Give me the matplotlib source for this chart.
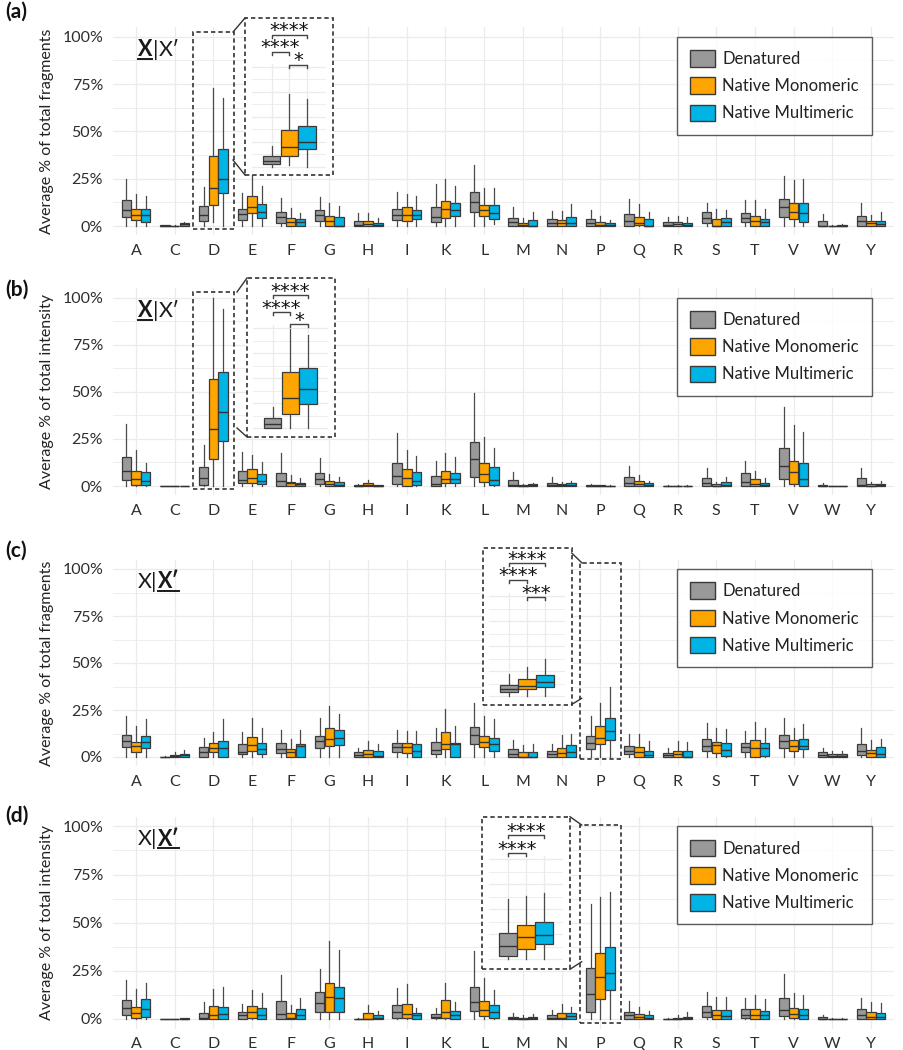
import matplotlib
matplotlib.use('Agg')
import matplotlib.pyplot as plt
from matplotlib.patches import Patch, Rectangle
from matplotlib.lines import Line2D

FONT = ['Lato', 'DejaVu Sans']
plt.rcParams['font.family'] = FONT

W, H = 904, 1050
fig = plt.figure(figsize=(W / 100, H / 100), dpi=100)
fig.patch.set_facecolor('white')


def fx(px):
    return px / W


def fy(py):
    return 1 - py / H


residues = ['A', 'C', 'D', 'E', 'F', 'G', 'H', 'I', 'K', 'L', 'M', 'N', 'P', 'Q', 'R', 'S', 'T', 'V', 'W', 'Y']
groups = ['Denatured', 'Native Monomeric', 'Native Multimeric']
colors = ['#999999', '#FFA500', '#00B4E6']

# (whisker low, Q1, median, Q3, whisker high) in %, one tuple per residue
a_denatured = [(0, 5, 8.5, 13.5, 24.8), (0, 0, 0, 0.3, 0.5), (0, 2.7, 5.9, 10.6, 20.6), (0, 3.2, 6.2, 9, 17.5),
               (0, 1.8, 4.6, 7.6, 14.7), (0, 2.7, 5.7, 8.5, 15.2), (0, 0, 0.5, 2.7, 6.7), (0, 3.2, 5.9, 9, 17.7),
               (0, 2.3, 5, 9.9, 22.2), (0, 7.3, 12.6, 17.9, 32.4), (0, 0, 2.3, 4.1, 10.3), (0, 0, 1.4, 3.5, 8),
               (0, 0, 1.8, 3.7, 8.5), (0, 0, 2.7, 6.2, 14.2), (0, 0, 0.7, 2.3, 5), (0, 1.8, 4.1, 7.3, 12.4),
               (0, 2, 4.1, 6.7, 13.5), (0, 5, 9.9, 14.4, 26.2), (0, 0, 0, 2.8, 6.2), (0, 0, 2.7, 5.3, 12.4)]
a_monomeric = [(0, 3.2, 5.9, 8.9, 17), (0, 0, 0, 0.2, 0.4), (2, 11, 20, 37, 73), (0, 6.7, 9.9, 15.6, 27),
               (0, 0, 2.3, 4.1, 9.4), (0, 0, 2.7, 5.5, 12), (0, 0, 1, 2.7, 6.7), (0, 2.7, 5.9, 9.8, 16.8),
               (0, 4.4, 8.9, 13, 25), (0, 5.3, 8.2, 11.2, 20), (0, 0, 0.7, 1.4, 4), (0, 0, 1.4, 3.2, 8),
               (0, 0, 0.7, 2.3, 5.3), (0, 0.4, 1.8, 5, 11.5), (0, 0, 1, 2.3, 5.3), (0, 0, 0.2, 3.7, 8.9),
               (0, 0, 2.7, 5.5, 13.8), (0, 3.5, 7.3, 12, 24.1), (0, 0, 0, 0.1, 0.3), (0, 0, 1.4, 2.8, 5.9)]
a_multimeric = [(0, 2.3, 5.7, 9, 16), (0, 0.2, 0.8, 1.5, 2), (0, 17.5, 25, 40.7, 67.6), (0, 4.4, 7.4, 11.7, 21.3),
                (0, 0, 2, 3.5, 7.1), (0, 0, 0.2, 4.6, 10.6), (0, 0, 0.7, 1.8, 4), (0, 3.5, 5.9, 8.5, 16.1),
                (0, 5.5, 8.5, 12, 21.3), (1, 3.5, 7.1, 11.2, 20), (0, 0, 0.2, 3.2, 7.3), (0, 0, 1.8, 5, 11.7),
                (0, 0, 0.5, 1.4, 3.2), (0, 0, 0.2, 3.5, 7.6), (0, 0, 0.7, 1.8, 4.6), (0, 0, 2.3, 4.4, 8.2),
                (0, 0, 2.3, 3.5, 8.9), (0, 2.3, 6.7, 12, 25), (0, 0, 0.1, 0.4, 1), (0, 0, 1, 2.8, 7.3)]

b_denatured = [(0, 3.2, 8.2, 15.6, 32.8), (0, 0, 0, 0.1, 0.2), (0, 0.5, 4.4, 9.9, 21.8), (0, 1.4, 3.2, 8.2, 18.3),
               (0, 0, 2.7, 7.1, 17.4), (0, 1.1, 3.7, 7.1, 15), (0, 0, 0.2, 0.5, 0.9), (0, 1.1, 5.5, 12.4, 28.4),
               (0, 0, 0.9, 5.5, 13.5), (0, 5, 14.2, 23.2, 49.2), (0, 0, 0.4, 3.2, 7.6), (0, 0, 0.7, 1.8, 4.6),
               (0, 0, 0.1, 0.5, 1.2), (0, 0, 1.4, 5, 10.6), (0, 0, 0, 0.2, 0.4), (0, 0, 1.4, 4.1, 9.8),
               (0, 0, 2.3, 6.7, 13.5), (0, 3.5, 10.6, 20.4, 42.2), (0, 0, 0.1, 0.5, 1.4), (0, 0, 0.4, 4.4, 9.8)]
b_monomeric = [(0, 0.5, 3.5, 8.2, 19.1), (0, 0, 0, 0.1, 0.2), (0, 14.2, 30.1, 56.7, 99.7), (0, 1.8, 4.1, 9, 16.5),
               (0, 0, 1.4, 2.3, 5.9), (0, 0, 1.1, 2.7, 6.4), (0, 0, 0.4, 1.4, 3.2), (0, 0.2, 4.1, 8.9, 19.1),
               (0, 1.4, 3.7, 8.2, 17.4), (0, 2, 6.4, 12, 26.2), (0, 0, 0.1, 0.5, 0.9), (0, 0, 0.4, 0.9, 2.3),
               (0, 0, 0.1, 0.3, 0.6), (0, 0, 1.1, 2.8, 5.9), (0, 0, 0, 0.2, 0.4), (0, 0, 0.2, 1.1, 2.3),
               (0, 0, 1.1, 3.5, 8), (0, 0.9, 7.3, 13.5, 32.4), (0, 0, 0, 0.1, 0.2), (0, 0, 0.2, 1.1, 2.3)]
b_multimeric = [(0, 0.5, 2.8, 7.4, 12), (0, 0, 0, 0.1, 0.2), (0, 23.9, 39.3, 60.4, 93.8), (0, 0.9, 2.8, 6.4, 12.9),
                (0, 0, 0.9, 1.8, 4.1), (0, 0, 0.5, 2, 4.6), (0, 0, 0.1, 0.4, 0.6), (0, 0.5, 2.7, 7.6, 16),
                (0, 1.4, 3.7, 6.7, 15.2), (0, 0.5, 3.2, 10.3, 20), (0, 0, 0.4, 0.9, 1.4), (0, 0, 0.5, 1.4, 2.7),
                (0, 0, 0.1, 0.2, 0.4), (0, 0, 0.5, 1.4, 2.8), (0, 0, 0, 0.2, 0.4), (0, 0, 0.4, 2, 4.6),
                (0, 0, 0.7, 1.8, 4.1), (0, 0.2, 3.9, 12.4, 28.9), (0, 0, 0, 0.1, 0.2), (0, 0, 0.3, 1.1, 2.7)]

c_denatured = [(0, 5.1, 8.5, 11.7, 21.8), (0, 0, 0, 0.2, 0.3), (0, 0, 2.8, 5.5, 10.3), (0, 1.6, 2.8, 6.9, 13.5),
               (0, 2.3, 4.3, 7.3, 14.4), (0, 5, 8.5, 11, 20.6), (0, 0, 1.1, 2.5, 4.8), (0, 2.5, 5.3, 7.3, 14.4),
               (0, 1.8, 3.7, 8.2, 15.6), (0, 6.7, 11.7, 16.1, 28.6), (0, 0, 1.4, 4.1, 9), (0, 0, 1.8, 3.4, 6.7),
               (0, 4.1, 7.3, 11, 21.8), (0, 1.4, 3.2, 5.9, 12.2), (0, 0, 1.1, 2.3, 5), (0, 3.2, 5.9, 9.4, 17.9),
               (0, 2.5, 5.5, 7.3, 13.8), (0, 4.6, 8.5, 11.7, 20.6), (0, 0, 1.1, 2.8, 4.6), (0, 1.1, 3.4, 6.7, 15.2)]
c_monomeric = [(0, 2.8, 5.9, 8.2, 16.7), (0, 0, 0.5, 1.1, 2.5), (0, 2.5, 5, 7.3, 13.5), (0, 3.2, 6.4, 10.5, 20.9),
               (0, 0, 2.5, 4.3, 9.6), (0, 6, 9.4, 15.2, 27.3), (0, 0, 1.6, 3.9, 8.3), (0, 2.3, 5.1, 7.3, 13.8),
               (0, 4.3, 6.7, 13.1, 25.4), (0, 5.1, 8.2, 11.2, 22), (0, 0, 0.2, 2.5, 6.4), (0, 0, 2.3, 5, 11.7),
               (0, 6.7, 9.9, 16.7, 28.9), (0, 0, 2.5, 5.1, 12.1), (0, 0, 1.4, 3.4, 8.5), (0, 2, 6.4, 7.8, 15.6),
               (0, 0, 4.6, 9, 18.8), (0, 3.2, 6, 8.9, 15.6), (0, 0, 0.7, 1.8, 3.2), (0, 0, 2.3, 3.7, 9)]
c_multimeric = [(0, 5, 8.2, 11.3, 20), (0, 0, 1.1, 1.6, 3.7), (0, 0, 5, 8.7, 20), (0, 1.6, 4.3, 7.6, 15.2),
                (0, 0, 6, 6.7, 14.2), (0, 6.4, 9.9, 14.4, 22.9), (0, 0, 0.5, 3.4, 7.1), (0, 0, 3.4, 6.7, 14),
                (0, 0, 6.7, 7.3, 16.7), (0, 3.2, 6.9, 10.3, 20), (0, 0, 0.2, 2.5, 6.9), (0, 0, 2.8, 6.4, 12.1),
                (0, 9, 13.8, 20.6, 37.4), (0, 0, 1.1, 3.4, 8.7), (0, 0, 0.1, 3.4, 8.2), (0, 0.5, 3.7, 7.3, 14.9),
                (0, 0.5, 5, 7.6, 15.2), (0, 4.1, 6, 9.4, 17.4), (0, 0, 0.3, 1.8, 3.4), (0, 0, 1.6, 5.1, 9.4)]

d_denatured = [(0, 2.1, 5.6, 9.9, 20.3), (0, 0, 0, 0.1, 0.2), (0, 0, 0.5, 3.3, 8.7), (0, 0, 1.9, 3.5, 7.8),
               (0, 0, 2.6, 9.5, 22.9), (0, 3.5, 8.2, 13.9, 26), (0, 0, 0, 0.1, 0.3), (0, 0.7, 3.8, 7.3, 16.3),
               (0, 0.5, 1.2, 2.4, 5.6), (0, 4.2, 9, 16.5, 35.5), (0, 0, 0.3, 1.2, 3.3), (0, 0, 0.5, 2.1, 4.7),
               (0, 3.4, 12.9, 26.4, 59.8), (0, 0, 1.9, 3.8, 9.5), (0, 0, 0, 0.1, 0.3), (0, 0.9, 3.5, 6.8, 13.9),
               (0, 0.5, 1.9, 5, 10.8), (0, 1.7, 4.7, 10.8, 23.3), (0, 0, 0.2, 0.9, 1.9), (0, 0, 1.9, 5, 10.8)]
d_monomeric = [(0, 0.3, 3.3, 6.4, 15.5), (0, 0, 0, 0.1, 0.2), (0, 0, 1.9, 6.8, 15.5), (0, 0.7, 3.8, 6.9, 14.8),
               (0, 0, 0.5, 3, 7.3), (0, 3.5, 11.3, 18.6, 40.6), (0, 0, 0.1, 3, 7.3), (0, 0.3, 2.6, 7.6, 18),
               (0, 0.7, 3.8, 9.9, 18.6), (0, 1.7, 4.5, 9.5, 21.2), (0, 0, 0.2, 0.7, 2.1), (0, 0, 0.5, 3.3, 7.8),
               (0, 10.3, 22, 34.5, 63.5), (0, 0, 1.2, 2.6, 6.4), (0, 0, 0.1, 0.5, 2.1), (0, 0, 1.9, 4.7, 11.6),
               (0, 0, 1.9, 5, 12.5), (0, 0.3, 2.6, 5.6, 13.4), (0, 0, 0, 0.1, 0.5), (0, 0, 1, 3.5, 8.7)]
d_multimeric = [(0, 1.2, 5, 10.2, 18.6), (0, 0, 0.1, 0.4, 0.6), (0, 0, 2.4, 6.4, 16.5), (0, 0, 2.1, 5.6, 13.4),
                (0, 0, 1.9, 5, 10.8), (0, 3.5, 10.8, 16.8, 35.6), (0, 0, 0.3, 1.9, 4.2), (0, 0, 1.9, 3, 5.6),
                (0, 0, 2.1, 4.2, 8.7), (0, 0.3, 3.5, 7.3, 15), (0, 0, 0.3, 0.9, 2.4), (0, 0, 1.6, 3, 6.1),
                (0, 15.1, 24.1, 37.3, 66), (0, 0, 0.3, 1.9, 4.3), (0, 0, 0.3, 0.9, 3.5), (0, 0, 1.6, 4.7, 11.6),
                (0, 0, 1.9, 4.3, 10.2), (0, 0, 2.1, 5, 12.5), (0, 0, 0, 0.1, 0.5), (0, 0, 0.9, 3.3, 8.2)]

yticks = [0, 25, 50, 75, 100]
ytick_labels = ['0%', '25%', '50%', '75%', '100%']

# significance annotations: (group i, group j, bracket height, label)
a_signif = [(1, 3, 132, '****'), (1, 2, 115, '****'), (2, 3, 102, '*')]
b_signif = [(1, 3, 133, '****'), (1, 2, 116, '****'), (2, 3, 104, '*')]
c_signif = [(1, 3, 133, '****'), (1, 2, 116, '****'), (2, 3, 99, '***')]
d_signif = [(1, 3, 124, '****'), (1, 2, 106, '****')]

panels = [
    dict(tag='(a)', tag_y=12, ylabel='Average % of total fragments', data=[a_denatured, a_monomeric, a_multimeric],
         zero=226, scale=1.893, first_bold=True, hl='D', hl_y=(-1.6, 102.6),
         inset=(245, 18, 333, 175), izero=166.7, ic2=289.3, isp=17.6, signif=a_signif,
         conn=[((233, 32), (245, 18)), ((233, 160), (245, 175))]),
    dict(tag='(b)', tag_y=290, ylabel='Average % of total intensity', data=[b_denatured, b_monomeric, b_multimeric],
         zero=486, scale=1.883, first_bold=True, hl='D', hl_y=(-1.6, 103),
         inset=(247, 278, 335, 437), izero=428.3, ic2=290.3, isp=17.8, signif=b_signif,
         conn=[((237, 292), (247, 278)), ((237, 428), (247, 437))]),
    dict(tag='(c)', tag_y=551, ylabel='Average % of total fragments', data=[c_denatured, c_monomeric, c_multimeric],
         zero=757, scale=1.88, first_bold=False, hl='P', hl_y=(-1.2, 103.4),
         inset=(483.3, 548.3, 571.7, 705), izero=696, ic2=527.3, isp=18, signif=c_signif,
         conn=[((571.7, 553), (581.7, 562.7)), ((571.7, 704.5), (581.7, 698.3))]),
    dict(tag='(d)', tag_y=816, ylabel='Average % of total intensity', data=[d_denatured, d_monomeric, d_multimeric],
         zero=1019, scale=1.926, first_bold=False, hl='P', hl_y=(-2.2, 100.7),
         inset=(481.7, 816.7, 570, 969.3), izero=959, ic2=526, isp=17.8, signif=d_signif,
         conn=[((570, 816.7), (581.7, 825)), ((570, 969.3), (581.7, 961.7))]),
]

AX_L, AX_R = 112.8, 894.2
GRID = '#ebebeb'
EDGE = '#3a3a3a'
TXT = '#2e2e2e'
DASH = (0, (2.6, 1.8))


def stats_of(t):
    lo, q1, med, q3, hi = t
    return dict(whislo=lo, q1=q1, med=med, q3=q3, whishi=hi, fliers=[])


def draw_boxes(ax, stats, positions, width, color):
    b = ax.bxp(stats, positions=positions, widths=width, patch_artist=True, showcaps=False,
               showfliers=False, manage_ticks=False,
               boxprops=dict(facecolor=color, edgecolor=EDGE, linewidth=0.9),
               whiskerprops=dict(color='#4a4a4a', linewidth=0.9),
               medianprops=dict(color='#333333', linewidth=1.0))
    return b


def style_grid(ax):
    for s in ax.spines.values():
        s.set_visible(False)
    ax.set_yticks(yticks)
    ax.set_yticks([12.5, 37.5, 62.5, 87.5], minor=True)
    ax.grid(True, which='major', color=GRID, linewidth=0.9)
    ax.grid(True, which='minor', axis='y', color=GRID, linewidth=0.6)
    ax.set_axisbelow(True)
    ax.tick_params(which='both', length=0)


renderer = fig.canvas.get_renderer()

for p in panels:
    sc = p['scale']
    top = p['zero'] - 105 * sc
    bot = p['zero'] + 5 * sc
    ax = fig.add_axes([fx(AX_L), fy(bot), fx(AX_R) - fx(AX_L), (bot - top) / H])
    ax.set_facecolor('white')
    ax.set_xlim(0.4, 20.6)
    ax.set_ylim(-5, 105)
    style_grid(ax)
    ax.set_xticks(range(1, 21))
    ax.set_xticklabels(residues, fontsize=11.5, color=TXT)
    ax.set_yticklabels(ytick_labels, fontsize=11.5, color=TXT)
    ax.tick_params(axis='y', pad=7)
    ax.tick_params(axis='x', pad=6)

    for g, (series, col) in enumerate(zip(p['data'], colors)):
        pos = [i + 1 + (g - 1) * 0.25 for i in range(len(residues))]
        draw_boxes(ax, [stats_of(t) for t in series], pos, 0.245, col)

    # legend
    handles = [Patch(facecolor=c, edgecolor=EDGE, linewidth=1.0, label=g) for g, c in zip(groups, colors)]
    leg = ax.legend(handles=handles, loc='upper right', bbox_to_anchor=((872 - AX_L) / (AX_R - AX_L), 105 / 110),
                    bbox_transform=ax.transAxes, frameon=True, fancybox=False, fontsize=12,
                    borderpad=0.8, labelspacing=0.62, handlelength=1.45, handleheight=1.15,
                    handletextpad=0.45, borderaxespad=0)
    leg.get_frame().set_edgecolor('#333333')
    leg.get_frame().set_linewidth(1.0)
    for t in leg.get_texts():
        t.set_color('#222222')

    # y label and panel tag
    fig.text(fx(47), fy((top + bot) / 2), p['ylabel'], rotation=90, ha='center', va='center',
             fontsize=11.5, color='#222222')
    fig.text(fx(5), fy(p['tag_y']), p['tag'], ha='left', va='center', fontsize=15, fontweight='bold',
             color='#111111')

    # highlight box around the zoomed residue
    hi = residues.index(p['hl']) + 1
    y0, y1 = p['hl_y']
    ax.add_patch(Rectangle((hi - 0.53, y0), 1.06, y1 - y0, fill=False, edgecolor='#333333',
                           linewidth=1.2, linestyle=DASH, clip_on=False, zorder=6))

    # X|X' label
    parts = [('X', True), ('|', False), ('X\u2032', False)] if p['first_bold'] else \
        [('X|', False), ('X\u2032', True)]
    xcur = 138
    yc = p['zero'] - 100 * sc + 13
    for txt, bold in parts:
        t = fig.text(fx(xcur), fy(yc), txt, fontsize=15.5, fontweight='bold' if bold else 'normal',
                     ha='left', va='center', color='#1a1a1a', family=FONT)
        bb = t.get_window_extent(renderer)
        if bold:
            fig.add_artist(Line2D([fx(bb.x0 + 0.5), fx(bb.x1 - 0.5)], [fy(yc + 9), fy(yc + 9)],
                                  color='#1a1a1a', linewidth=1.4))
        xcur = bb.x1 + 0.5

    # inset frame and connectors
    ix0, iy0, ix1, iy1 = p['inset']
    fig.add_artist(Rectangle((fx(ix0), fy(iy1)), fx(ix1) - fx(ix0), (iy1 - iy0) / H, transform=fig.transFigure,
                             facecolor='white', edgecolor='#333333', linewidth=1.2, linestyle=DASH, zorder=2))
    for (xa, ya), (xb, yb) in p['conn']:
        fig.add_artist(Line2D([fx(xa), fx(xb)], [fy(ya), fy(yb)], color='#333333', linewidth=1.0, zorder=2))

    # inset axes (same data, 1 px per %)
    sp = p['isp']
    il = p['ic2'] - 2.1 * sp
    ib = p['izero'] + 2
    iax = fig.add_axes([fx(il), fy(ib), 4.2 * sp / W, 105 / H], zorder=3)
    iax.set_facecolor('none')
    iax.set_xlim(-0.1, 4.1)
    iax.set_ylim(-2, 103)
    style_grid(iax)
    iax.set_xticks([1, 2, 3])
    iax.set_xticklabels([])
    iax.set_yticklabels([])
    for g, (series, col) in enumerate(zip(p['data'], colors)):
        draw_boxes(iax, [stats_of(series[hi - 1])], [g + 1], 0.98, col)
    for i, j, yb, lab in p['signif']:
        iax.plot([i, i, j, j], [yb - 3, yb, yb, yb - 3], color='#444444', linewidth=1.0, clip_on=False)
        iax.text((i + j) / 2, yb - 1.5, lab, ha='center', va='baseline', fontsize=14,
                 family='DejaVu Sans', color='#111111', clip_on=False)

fig.savefig('out.png', dpi=100, facecolor='white')
